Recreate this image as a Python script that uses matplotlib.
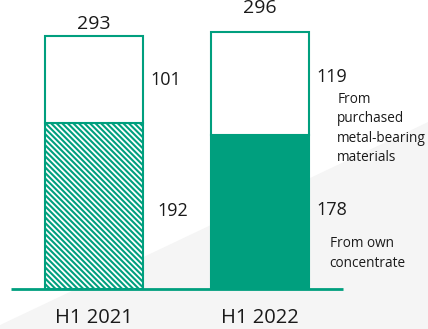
import matplotlib.pyplot as plt
from matplotlib.patches import Polygon

plt.rcParams['font.family'] = ['Open Sans', 'DejaVu Sans']
plt.rcParams['hatch.linewidth'] = 1.5

# data
periods = ['H1 2021', 'H1 2022']
own_concentrate = [192, 178]
purchased = [101, 119]
totals = [293, 296]

green = '#009f7e'
text_col = '#1a1a1a'

fig = plt.figure(figsize=(4.28, 3.29), dpi=100)
ax = fig.add_axes([0, 0, 1, 1])
ax.set_xlim(-0.566, 2.012)
ax.set_ylim(-46.2, 334.1)
ax.axis('off')

# light grey background wedge
ax.add_patch(Polygon([(0, 0.012), (1, 0.629), (1, 0), (0, 0)], closed=True,
                     transform=ax.transAxes, facecolor='#f5f5f5',
                     edgecolor='none', zorder=0))

x = list(range(len(periods)))
w = 0.59

# bottom segments: 2021 hatched, 2022 solid
ax.bar(x[0], own_concentrate[0], width=w, facecolor='white', edgecolor=green,
       hatch='\\' * 6, linewidth=1.5, zorder=2)
ax.bar(x[1], own_concentrate[1], width=w, facecolor=green, edgecolor=green,
       linewidth=1.5, zorder=2)
# top segments (white)
ax.bar(x, purchased, bottom=own_concentrate, width=w, facecolor='white',
       edgecolor=green, linewidth=1.5, zorder=2)

# baseline
ax.hlines(0, x[0] - 0.5, x[-1] + 0.5, color=green, linewidth=2, zorder=3)

# totals on top
for xi, t, off in zip(x, totals, [8, 18]):
    ax.annotate(str(t), (xi, t), xytext=(0, off), textcoords='offset points',
                ha='center', va='center', fontsize=14, color=text_col)

# segment values
ax.text(x[0] + 0.34, own_concentrate[0] + purchased[0] * 0.49, str(purchased[0]),
        ha='left', va='center', fontsize=13, color=text_col)
ax.text(x[0] + 0.38, own_concentrate[0] * 0.47, str(own_concentrate[0]),
        ha='left', va='center', fontsize=13, color=text_col)
ax.text(x[1] + 0.34, own_concentrate[1] + purchased[1] * 0.56, str(purchased[1]),
        ha='left', va='center', fontsize=13, color=text_col)
ax.text(x[1] + 0.34, own_concentrate[1] * 0.51, str(own_concentrate[1]),
        ha='left', va='center', fontsize=13, color=text_col)

# series notes
ax.text(x[1] + 0.465, own_concentrate[1] + purchased[1] * 0.42,
        'From\npurchased\nmetal-bearing\nmaterials',
        ha='left', va='top', fontsize=9.8, linespacing=1.4, color=text_col)
ax.text(x[1] + 0.42, own_concentrate[1] * 0.12,
        'From own\nconcentrate',
        ha='left', va='bottom', fontsize=9.8, linespacing=1.4, color=text_col)

# category labels
for xi, p in zip(x, periods):
    ax.annotate(p, (xi, 0), xytext=(0, -21), textcoords='offset points',
                ha='center', va='center', fontsize=14.5, color=text_col)

fig.savefig('out.png', dpi=100, facecolor='white')
